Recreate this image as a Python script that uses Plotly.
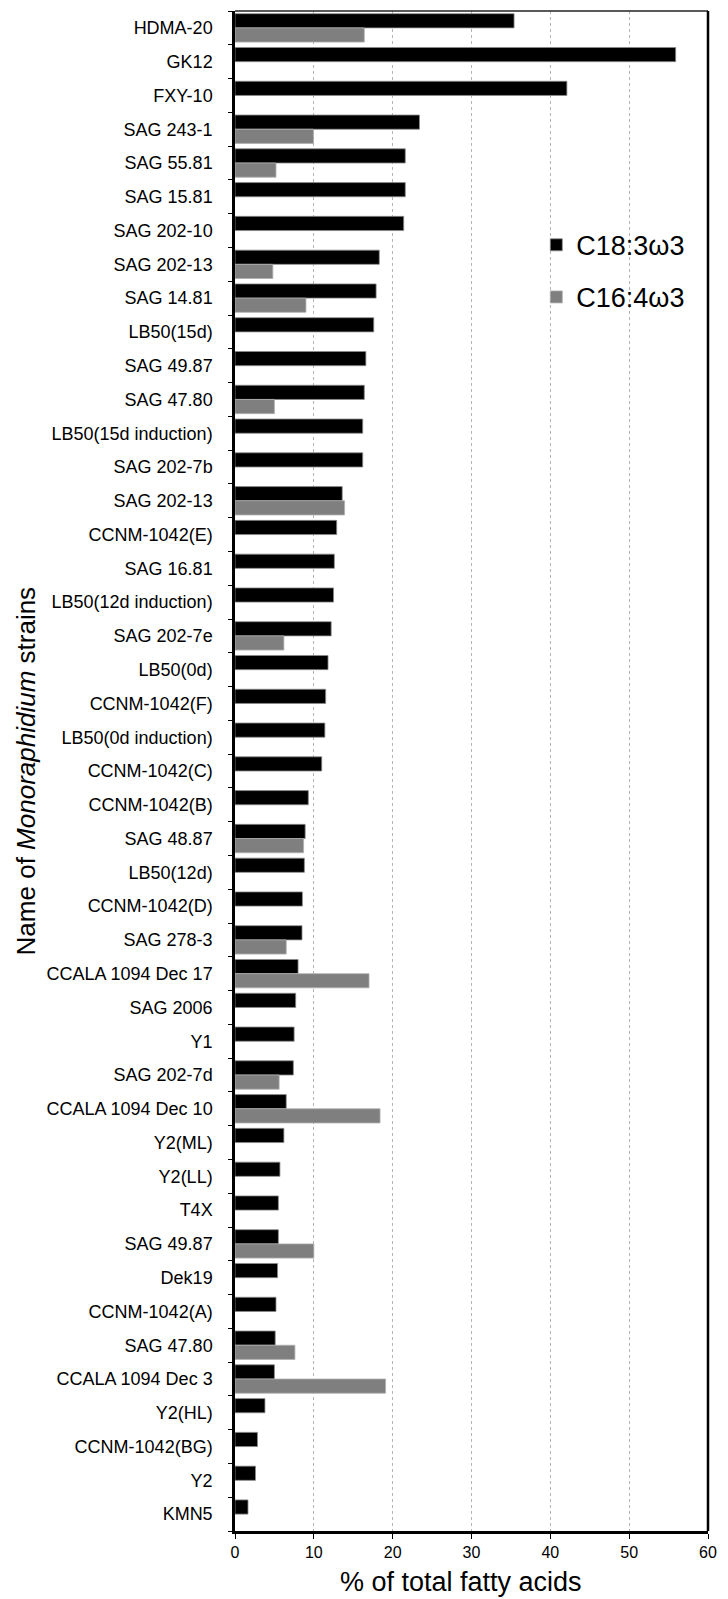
import plotly.graph_objects as go

# Strains in display order (top to bottom)
strains = [
    "HDMA-20", "GK12", "FXY-10", "SAG 243-1", "SAG 55.81", "SAG 15.81",
    "SAG 202-10", "SAG 202-13", "SAG 14.81", "LB50(15d)", "SAG 49.87",
    "SAG 47.80", "LB50(15d induction)", "SAG 202-7b", "SAG 202-13",
    "CCNM-1042(E)", "SAG 16.81", "LB50(12d induction)", "SAG 202-7e",
    "LB50(0d)", "CCNM-1042(F)", "LB50(0d induction)", "CCNM-1042(C)",
    "CCNM-1042(B)", "SAG 48.87", "LB50(12d)", "CCNM-1042(D)", "SAG 278-3",
    "CCALA 1094 Dec 17", "SAG 2006", "Y1", "SAG 202-7d", "CCALA 1094 Dec 10",
    "Y2(ML)", "Y2(LL)", "T4X", "SAG 49.87", "Dek19", "CCNM-1042(A)",
    "SAG 47.80", "CCALA 1094 Dec 3", "Y2(HL)", "CCNM-1042(BG)", "Y2", "KMN5",
]

# C18:3 omega-3, % of total fatty acids
c18_3 = [
    35.4, 55.9, 42.1, 23.4, 21.6, 21.6,
    21.4, 18.3, 17.9, 17.6, 16.6,
    16.4, 16.2, 16.2, 13.6,
    12.9, 12.6, 12.5, 12.2,
    11.8, 11.5, 11.4, 11.0,
    9.3, 8.9, 8.8, 8.55, 8.5,
    8.0, 7.7, 7.5, 7.4, 6.5,
    6.2, 5.7, 5.5, 5.5, 5.4, 5.2,
    5.1, 5.0, 3.8, 2.85, 2.6, 1.65,
]

# C16:4 omega-3, % of total fatty acids (None = not reported)
c16_4 = [
    16.4, None, None, 9.95, 5.2, None,
    None, 4.8, 9.0, None, None,
    5.0, None, None, 13.9,
    None, None, None, 6.2,
    None, None, None, None,
    None, 8.7, None, None, 6.5,
    17.0, None, None, 5.6, 18.4,
    None, None, None, 10.0, None, None,
    7.6, 19.1, None, None, None, None,
]

x_ticks = [0, 10, 20, 30, 40, 50, 60]

pos = list(range(len(strains)))
boundaries = [p - 0.5 for p in pos] + [pos[-1] + 0.5]

font_family = "Liberation Sans, Arial, sans-serif"

fig = go.Figure()
fig.add_trace(go.Bar(
    y=pos, x=c18_3, orientation="h", name="C18:3ω3",
    marker=dict(color="#000000", line=dict(color="#8a8a8a", width=0.8)),
    legendgroup="a",
))
fig.add_trace(go.Bar(
    y=pos, x=c16_4, orientation="h", name="C16:4ω3",
    marker=dict(color="#7f7f7f", line=dict(color="#b0b0b0", width=0.8)),
    legendgroup="b",
))

fig.update_layout(
    width=728, height=1599,
    margin=dict(l=235, r=12, t=11, b=68),
    paper_bgcolor="white", plot_bgcolor="white",
    barmode="group", bargap=0.16, bargroupgap=0.0,
    font=dict(family=font_family, color="black"),
    legend=dict(
        x=0.637, y=0.862, xanchor="left", yanchor="top",
        font=dict(size=27, family=font_family),
        bgcolor="rgba(0,0,0,0)", tracegroupgap=14,
        traceorder="grouped",
    ),
    showlegend=True,
)

fig.update_xaxes(
    range=[0, 60], tickmode="array", tickvals=x_ticks,
    ticks="outside", ticklen=5, tickcolor="black",
    tickfont=dict(size=16, family=font_family),
    showgrid=True, gridcolor="#b4b4b4", griddash="dot", gridwidth=1,
    showline=True, linecolor="black", linewidth=2.5,
    zeroline=False,
)

fig.update_yaxes(
    range=[pos[-1] + 0.5, pos[0] - 0.5],
    tickmode="array", tickvals=pos, ticktext=strains,
    ticks="", ticklabelstandoff=16,
    tickfont=dict(size=18, family=font_family),
    minor=dict(tickmode="array", tickvals=boundaries, ticks="outside",
               ticklen=4, tickcolor="black", showgrid=False),
    showgrid=False, zeroline=False,
    showline=True, linecolor="black", linewidth=2.5,
)

# Top and right frame lines
fig.add_shape(type="line", xref="paper", yref="paper", x0=0, x1=1, y0=1, y1=1,
              line=dict(color="#222222", width=1.5))
fig.add_shape(type="line", xref="paper", yref="paper", x0=1, x1=1, y0=0, y1=1,
              line=dict(color="black", width=2.5))

# Axis titles
fig.add_annotation(
    text="Name of <i>Monoraphidium</i> strains",
    xref="paper", yref="paper", x=-0.441, y=0.5,
    xanchor="center", yanchor="middle", textangle=-90, showarrow=False,
    font=dict(size=26, family=font_family, color="black"),
)
fig.add_annotation(
    text="% of total fatty acids",
    xref="paper", yref="paper", x=0.478, y=-0.0335,
    xanchor="center", yanchor="middle", showarrow=False,
    font=dict(size=27, family=font_family, color="black"),
)

fig.write_html("out.html")
